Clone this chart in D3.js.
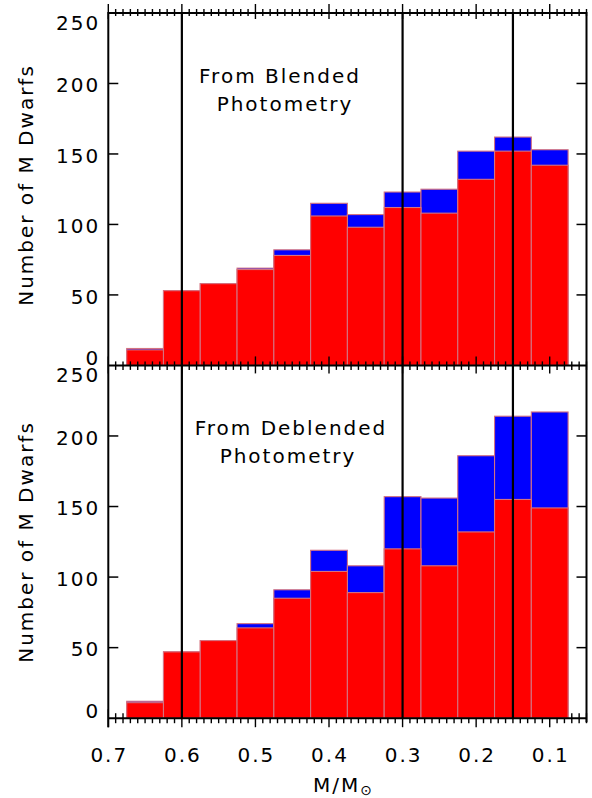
<!DOCTYPE html>
<html>
<head>
<meta charset="utf-8">
<script src="https://cdn.jsdelivr.net/npm/d3@7"></script>
<style>
  html, body { margin: 0; padding: 0; background: #fff; }
  svg text { font-family: "DejaVu Sans", sans-serif; font-size: 20px; letter-spacing: 2px; fill: #000; }
</style>
</head>
<body>
<svg id="chart" width="592" height="798"></svg>
<script>
// ---- data ----
const binCenters = [0.65, 0.6, 0.55, 0.5, 0.45, 0.4, 0.35, 0.3, 0.25, 0.2, 0.15, 0.1];
const binWidth = 0.05;
const blendedRed   = [11, 53, 58, 68, 78, 106, 98, 112, 108, 132, 152, 142];
const blendedTotal = [12, 53, 58, 69, 82, 115, 107, 123, 125, 152, 162, 153];
const deblendedRed   = [11, 47, 55, 64, 85, 104, 89, 120, 108, 132, 155, 149];
const deblendedTotal = [12, 47, 55, 67, 91, 119, 108, 157, 156, 186, 214, 217];
const xTickValues = [0.7, 0.6, 0.5, 0.4, 0.3, 0.2, 0.1];
const xTickLabels = ["0.7", "0.6", "0.5", "0.4", "0.3", "0.2", "0.1"];
const yTickValues = [0, 50, 100, 150, 200, 250];
const yTickLabels = ["0", "50", "100", "150", "200", "250"];
const markerLines = [0.6, 0.3, 0.15];
const panelTitles = [["From Blended", "Photometry"], ["From Deblended", "Photometry"]];
const yTitle = "Number of M Dwarfs";

// ---- layout ----
const svg = d3.select("#chart");
const x = d3.scaleLinear().domain([0.7, 0.05]).range([108.3, 586.5]);
const yTop = d3.scaleLinear().domain([0, 250]).range([365.4, 13]);
const yBot = d3.scaleLinear().domain([0, 250]).range([718.2, 365.4]);
const minorTicks = d3.range(5, 71).map(i => i / 100);
const isMajor = v => Math.abs(Math.round(v * 100) % 10) === 0;

const redFill = "#ff0000", blueFill = "#0000ff", barStroke = "#d47280";

function xTicks(g, yPos, upMinor, downMinor, upMajor, downMajor) {
  g.selectAll(null).data(minorTicks).enter().append("line")
    .attr("x1", d => x(d)).attr("x2", d => x(d))
    .attr("y1", d => yPos - (isMajor(d) ? upMajor : upMinor))
    .attr("y2", d => yPos + (isMajor(d) ? downMajor : downMinor))
    .attr("stroke", "#000").attr("stroke-width", 1.4);
}

// bottom axis ticks (drawn under bars)
xTicks(svg.append("g"), yBot(0), 5, 5, 9, 9);

const panels = [
  { y: yTop, red: blendedRed, total: blendedTotal, titles: panelTitles[0],
    t1: [280, 83], t2: [285, 111], titleY: 185 },
  { y: yBot, red: deblendedRed, total: deblendedTotal, titles: panelTitles[1],
    t1: [291, 435], t2: [288, 463], titleY: 542 }
];

panels.forEach(p => {
  const g = svg.append("g");
  const bars = binCenters.map((c, i) => ({ c, red: p.red[i], total: p.total[i] }));
  // blue part (total)
  g.selectAll(null).data(bars).enter().append("rect")
    .attr("x", d => x(d.c + binWidth / 2))
    .attr("width", d => x(d.c - binWidth / 2) - x(d.c + binWidth / 2))
    .attr("y", d => p.y(d.total))
    .attr("height", d => p.y(0) - p.y(d.total))
    .attr("fill", blueFill).attr("stroke", barStroke).attr("stroke-width", 1.1);
  // red part
  g.selectAll(null).data(bars).enter().append("rect")
    .attr("x", d => x(d.c + binWidth / 2))
    .attr("width", d => x(d.c - binWidth / 2) - x(d.c + binWidth / 2))
    .attr("y", d => p.y(d.red))
    .attr("height", d => p.y(0) - p.y(d.red))
    .attr("fill", redFill).attr("stroke", barStroke).attr("stroke-width", 1.1);

  // y ticks (inward, both sides)
  const inner = yTickValues.filter(v => v > 0 && v < 250);
  g.selectAll(null).data(inner).enter().append("line")
    .attr("x1", x.range()[0]).attr("x2", x.range()[0] + 10)
    .attr("y1", d => p.y(d)).attr("y2", d => p.y(d))
    .attr("stroke", "#000").attr("stroke-width", 1.5);
  g.selectAll(null).data(inner).enter().append("line")
    .attr("x1", x.range()[1]).attr("x2", x.range()[1] - 10)
    .attr("y1", d => p.y(d)).attr("y2", d => p.y(d))
    .attr("stroke", "#000").attr("stroke-width", 1.5);

  // y tick labels
  g.selectAll(null).data(yTickValues).enter().append("text")
    .attr("x", 100.3)
    .attr("y", (d, i) => i === 0 ? p.y(d) : (i === yTickValues.length - 1 ? p.y(d) + 17 : p.y(d) + 8.8))
    .attr("text-anchor", "end")
    .text((d, i) => yTickLabels[i]);

  // y title
  g.append("text")
    .attr("transform", `translate(33,${p.titleY}) rotate(-90)`)
    .attr("text-anchor", "middle")
    .text(yTitle);

  // annotation
  g.append("text").attr("x", p.t1[0]).attr("y", p.t1[1]).attr("text-anchor", "middle").text(p.titles[0]);
  g.append("text").attr("x", p.t2[0]).attr("y", p.t2[1]).attr("text-anchor", "middle").text(p.titles[1]);
});

// vertical marker lines
svg.append("g").selectAll(null).data(markerLines).enter().append("line")
  .attr("x1", d => x(d)).attr("x2", d => x(d))
  .attr("y1", yTop(250)).attr("y2", yBot(0))
  .attr("stroke", "#000").attr("stroke-width", 2.2);

// frame
const frame = svg.append("g").attr("stroke", "#000").attr("stroke-width", 2);
frame.append("line").attr("x1", x(0.7)).attr("x2", x(0.7)).attr("y1", yTop(250) - 1).attr("y2", yBot(0) + 9);
frame.append("line").attr("x1", x(0.05)).attr("x2", x(0.05)).attr("y1", yTop(250) - 1).attr("y2", yBot(0) + 4);
frame.append("line").attr("x1", x(0.7)).attr("x2", x(0.05)).attr("y1", yTop(250)).attr("y2", yTop(250));
frame.append("line").attr("x1", x(0.7)).attr("x2", x(0.05)).attr("y1", yTop(0)).attr("y2", yTop(0));
frame.append("line").attr("x1", x(0.7)).attr("x2", x(0.05)).attr("y1", yBot(0)).attr("y2", yBot(0));

// top frame ticks and junction ticks (over bars)
xTicks(svg.append("g"), yTop(250), 4, 3, 9, 6);
xTicks(svg.append("g"), yTop(0), 4, 4.5, 9, 8);

// x tick labels
svg.append("g").selectAll(null).data(xTickValues).enter().append("text")
  .attr("x", d => x(d) + 1).attr("y", 761.7)
  .attr("text-anchor", "middle")
  .text((d, i) => xTickLabels[i]);

// x title
const xt = svg.append("text").attr("x", 313).attr("y", 791.7).attr("text-anchor", "start");
xt.append("tspan").text("M/M");
xt.append("tspan").attr("font-size", 14).attr("dy", 3).text("⊙");
</script>
</body>
</html>
